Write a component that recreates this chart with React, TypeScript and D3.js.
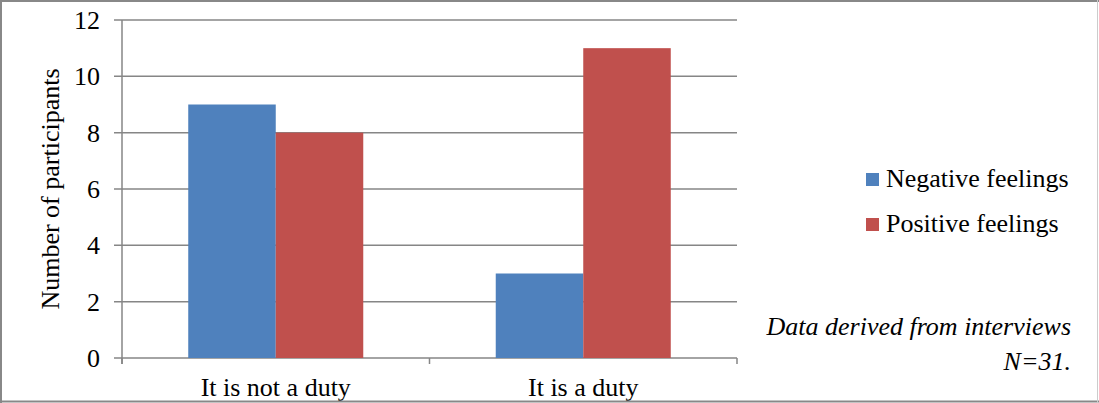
import React from "react";
import * as d3 from "d3";

const categories = ["It is not a duty", "It is a duty"];
const seriesNames = ["Negative feelings", "Positive feelings"];
const negativeValues = [9, 3];
const positiveValues = [8, 11];
const yTicks = [0, 2, 4, 6, 8, 10, 12];
const colors = ["#4F81BD", "#C0504D"];

const W = 1099;
const H = 403;
const FONT = '"Liberation Serif", "Times New Roman", Times, "DejaVu Serif", serif';

export default function App() {
  const left = 122, right = 737, top = 20, bottom = 358;
  const x = d3.scaleBand<string>().domain(categories).range([left, right]).padding(0);
  const inner = d3
    .scaleBand<string>()
    .domain(seriesNames)
    .range([0, x.bandwidth()])
    .paddingInner(0)
    .paddingOuter(0.757);
  const y = d3.scaleLinear().domain([0, 12]).range([bottom, top]);
  const values = [negativeValues, positiveValues];
  const grid = "#868686";
  const txt = { fontFamily: FONT, fontSize: "26px" };

  return (
    <svg width={W} height={H} style={{ position: "absolute", left: 0, top: 0, fontFamily: FONT }}>
      <rect x={0} y={0} width={W} height={H} fill="#fff" />
      {yTicks.map((t) => (
        <g key={t}>
          <line x1={left - 8} x2={right} y1={y(t)} y2={y(t)} stroke={grid} strokeWidth={1.5} />
          <text x={100} y={y(t) + 9} textAnchor="end" style={txt} fill="#000">
            {t}
          </text>
        </g>
      ))}
      {categories.map((c, ci) =>
        seriesNames.map((s, si) => (
          <rect
            key={c + s}
            x={(x(c) as number) + (inner(s) as number)}
            y={y(values[si][ci])}
            width={inner.bandwidth()}
            height={bottom - y(values[si][ci])}
            fill={colors[si]}
          />
        ))
      )}
      <line x1={left} x2={left} y1={top} y2={bottom + 6} stroke={grid} strokeWidth={1.5} />
      {[...categories.map((c) => x(c) as number), right].map((px, i) => (
        <line key={i} x1={px} x2={px} y1={bottom} y2={bottom + 6} stroke={grid} strokeWidth={1.5} />
      ))}
      {categories.map((c) => (
        <text
          key={c}
          x={(x(c) as number) + x.bandwidth() / 2}
          y={396}
          textAnchor="middle"
          style={txt}
          fill="#000"
        >
          {c}
        </text>
      ))}
      <text
        transform={`translate(59, ${(top + bottom) / 2}) rotate(-90)`}
        textAnchor="middle"
        style={txt}
        fill="#000"
      >
        Number of participants
      </text>
      {seriesNames.map((s, i) => (
        <g key={s} transform={`translate(866, ${173 + i * 45})`}>
          <rect x={0} y={0} width={13} height={13} fill={colors[i]} />
          <text x={20} y={14} style={txt} fill="#000">
            {s}
          </text>
        </g>
      ))}
      <text x={1071} y={335} textAnchor="end" style={{ ...txt, fontStyle: "italic" }} fill="#000">
        Data derived from interviews
      </text>
      <text x={1071} y={370} textAnchor="end" style={{ ...txt, fontStyle: "italic" }} fill="#000">
        N=31.
      </text>
      <line x1={1} x2={1} y1={0} y2={H} stroke="#888" strokeWidth={2} />
      <line x1={0} x2={W} y1={1} y2={1} stroke="#888" strokeWidth={2} />
      <line x1={0} x2={W} y1={H - 1.5} y2={H - 1.5} stroke="#888" strokeWidth={2} />
      <line x1={W - 1.5} x2={W - 1.5} y1={0} y2={H} stroke="#ccc" strokeWidth={1} />
    </svg>
  );
}
